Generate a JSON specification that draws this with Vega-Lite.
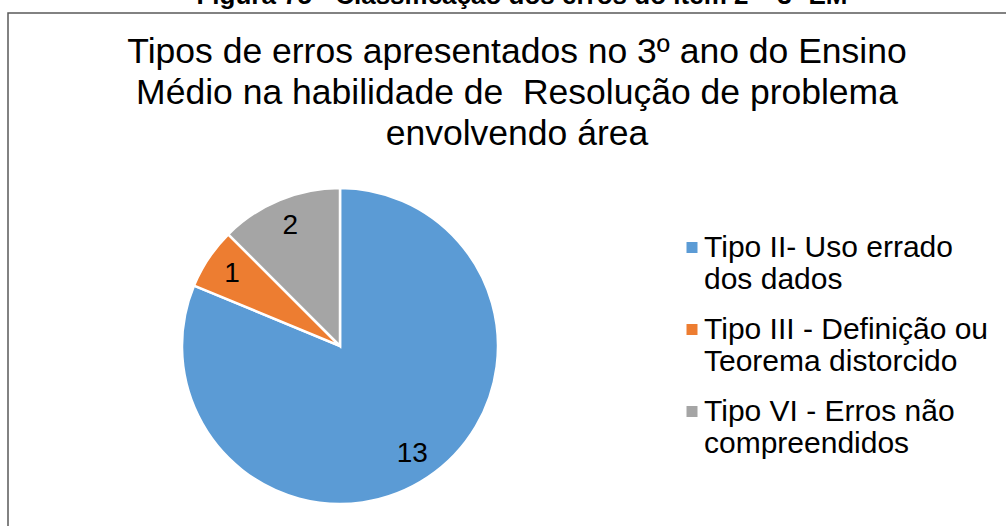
{
  "$schema": "https://vega.github.io/schema/vega-lite/v6.json",
  "autosize": {"type": "none"},
  "padding": {"left": 8, "top": 13, "right": 0, "bottom": 0},
  "width": 1012,
  "height": 532,
  "background": "white",
  "view": {"stroke": "#595959", "strokeWidth": 1.5},
  "config": {
    "view": {"stroke": "#595959", "strokeWidth": 1.5},
    "font": "Liberation Sans"
  },
  "data": {
    "values": [
      {"tipo": "Tipo II- Uso errado|dos dados", "n": 13, "ordem": 1},
      {"tipo": "Tipo III - Definição ou|Teorema distorcido", "n": 1, "ordem": 2},
      {"tipo": "Tipo VI - Erros não|compreendidos", "n": 2, "ordem": 3}
    ]
  },
  "layer": [
    {
      "mark": {"type": "arc", "x": 332, "y": 333, "outerRadius": 158, "stroke": "white", "strokeWidth": 2.5},
      "encoding": {
        "theta": {"field": "n", "type": "quantitative", "stack": true},
        "order": {"field": "ordem", "type": "quantitative"},
        "color": {
          "field": "tipo",
          "type": "nominal",
          "sort": null,
          "scale": {
            "domain": ["Tipo II- Uso errado|dos dados", "Tipo III - Definição ou|Teorema distorcido", "Tipo VI - Erros não|compreendidos"],
            "range": ["#5B9BD5", "#ED7D31", "#A5A5A5"]
          },
          "legend": {
            "title": null,
            "orient": "none",
            "legendX": 669,
            "legendY": 205,
            "symbolType": "M-1,1.64H1V3.64H-1Z",
            "symbolSize": 121,
            "symbolStrokeWidth": 0,
            "labelFont": "Liberation Sans",
            "labelFontSize": 30,
            "labelColor": "#000000",
            "labelLimit": 500,
            "labelOffset": -3,
            "labelBaseline": "top",
            "labelLineHeight": 36,
            "rowPadding": 5,
            "labelExpr": "split(datum.label, '|')"
          }
        }
      }
    },
    {
      "mark": {"type": "text", "x": 332, "y": 333, "radius": 130, "font": "Liberation Sans", "fontSize": 28, "color": "#000000", "baseline": "middle", "align": "center"},
      "encoding": {
        "theta": {"field": "n", "type": "quantitative", "stack": true},
        "order": {"field": "ordem", "type": "quantitative"},
        "text": {"field": "n", "type": "quantitative"}
      }
    },
    {
      "data": {"values": [{}]},
      "mark": {"type": "text", "text": ["Tipos de erros apresentados no 3º ano do Ensino", "Médio na habilidade de\u00a0 Resolução de problema", "envolvendo área"], "font": "Liberation Sans", "fontSize": 35.5, "lineHeight": 41, "color": "#000000", "align": "center", "baseline": "alphabetic", "x": 509, "y": 50},
      "encoding": {}
    },
    {
      "data": {"values": [{}]},
      "mark": {"type": "text", "text": "Figura 75 - Classificação dos erros do item 2 – 3º EM", "font": "Liberation Sans", "fontWeight": "bold", "fontSize": 26, "color": "#000000", "align": "center", "baseline": "alphabetic", "x": 514, "y": -9},
      "encoding": {}
    }
  ]
}
